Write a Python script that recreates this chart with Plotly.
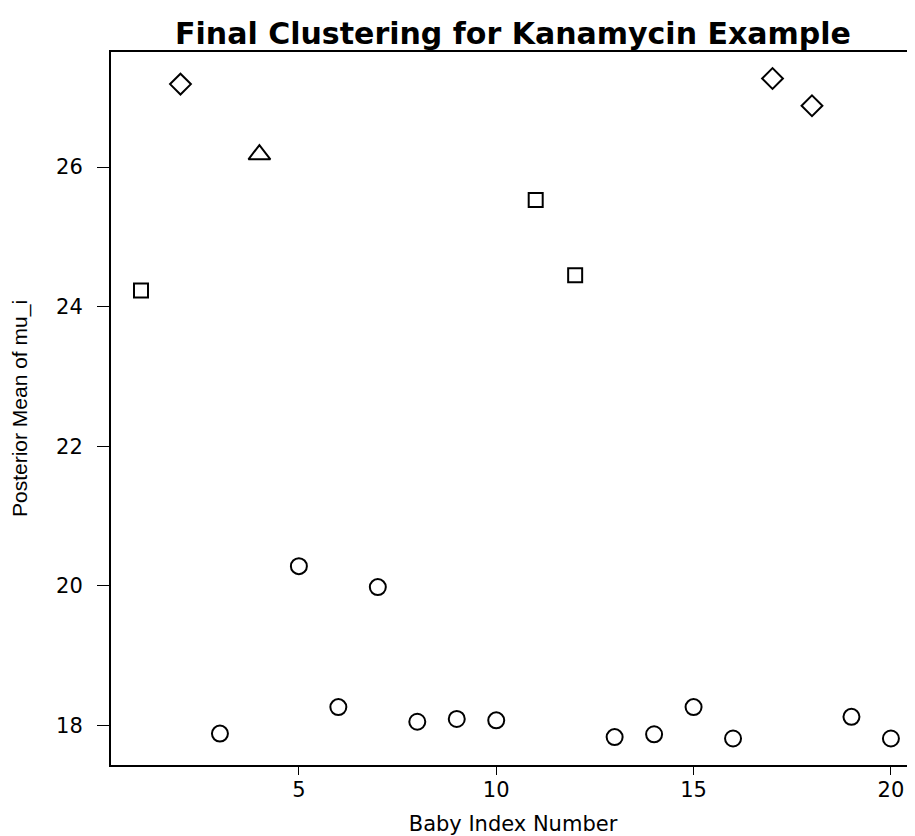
import plotly.graph_objects as go

baby_index = list(range(1, 21))
posterior_mean = [24.23, 27.19, 17.88, 26.18, 20.28, 18.26, 19.98, 18.05, 18.09, 18.07,
                  25.53, 24.45, 17.83, 17.87, 18.26, 17.81, 27.27, 26.88, 18.12, 17.81]
cluster = ["square", "diamond", "circle", "triangle", "circle", "circle", "circle", "circle",
           "circle", "circle", "square", "square", "circle", "circle", "circle", "circle",
           "diamond", "diamond", "circle", "circle"]

x_ticks = [5, 10, 15, 20]
y_ticks = [18, 20, 22, 24, 26]

symbol_map = {"circle": ("circle-open", 16), "square": ("square-open", 14),
              "diamond": ("diamond-open", 16), "triangle": ("triangle-up-open", 19)}

fig = go.Figure()
for name in ["circle", "square", "diamond", "triangle"]:
    xs = [x for x, c in zip(baby_index, cluster) if c == name]
    ys = [y for y, c in zip(posterior_mean, cluster) if c == name]
    sym, sz = symbol_map[name]
    fig.add_trace(go.Scatter(
        x=xs, y=ys, mode="markers", name=name, showlegend=False,
        marker=dict(symbol=sym, size=sz, color="black", line=dict(color="black", width=2)),
    ))

font_family = "DejaVu Sans"
# page body has an 8px margin: figure is 907x828, placed at (8, 8) in the window
fig.update_layout(
    width=907, height=828,
    margin=dict(l=103, r=0, t=44, b=71),
    paper_bgcolor="white", plot_bgcolor="white",
    title=dict(text="<b>Final Clustering for Kanamycin Example</b>",
               x=0.5, xref="paper", xanchor="center",
               y=1 - 25 / 828, yref="container", yanchor="middle",
               font=dict(family=font_family, size=30, color="black")),
    font=dict(family=font_family, color="black"),
)
fig.update_xaxes(
    range=[0.24, 20.61], tickvals=x_ticks, ticktext=[str(v) for v in x_ticks],
    showgrid=False, zeroline=False, showline=True, linecolor="black", linewidth=2,
    mirror=True, ticks="outside", ticklen=8, tickwidth=1, tickcolor="black",
    ticklabelstandoff=-3,
    tickfont=dict(family=font_family, size=21, color="black"),
    title=dict(text="Baby Index Number", standoff=16,
               font=dict(family=font_family, size=21, color="black")),
    automargin=False,
)
fig.update_yaxes(
    range=[17.43, 27.65], tickvals=y_ticks, ticktext=[str(v) for v in y_ticks],
    showgrid=False, zeroline=False, showline=True, linecolor="black", linewidth=2,
    mirror=False, ticks="outside", ticklen=12, tickwidth=1, tickcolor="black",
    ticklabelstandoff=10,
    tickfont=dict(family=font_family, size=21, color="black"),
    title=dict(text="Posterior Mean of mu_i", standoff=28,
               font=dict(family="Liberation Sans", size=21, color="black")),
    automargin=False,
)

fig.write_html("out.html")
